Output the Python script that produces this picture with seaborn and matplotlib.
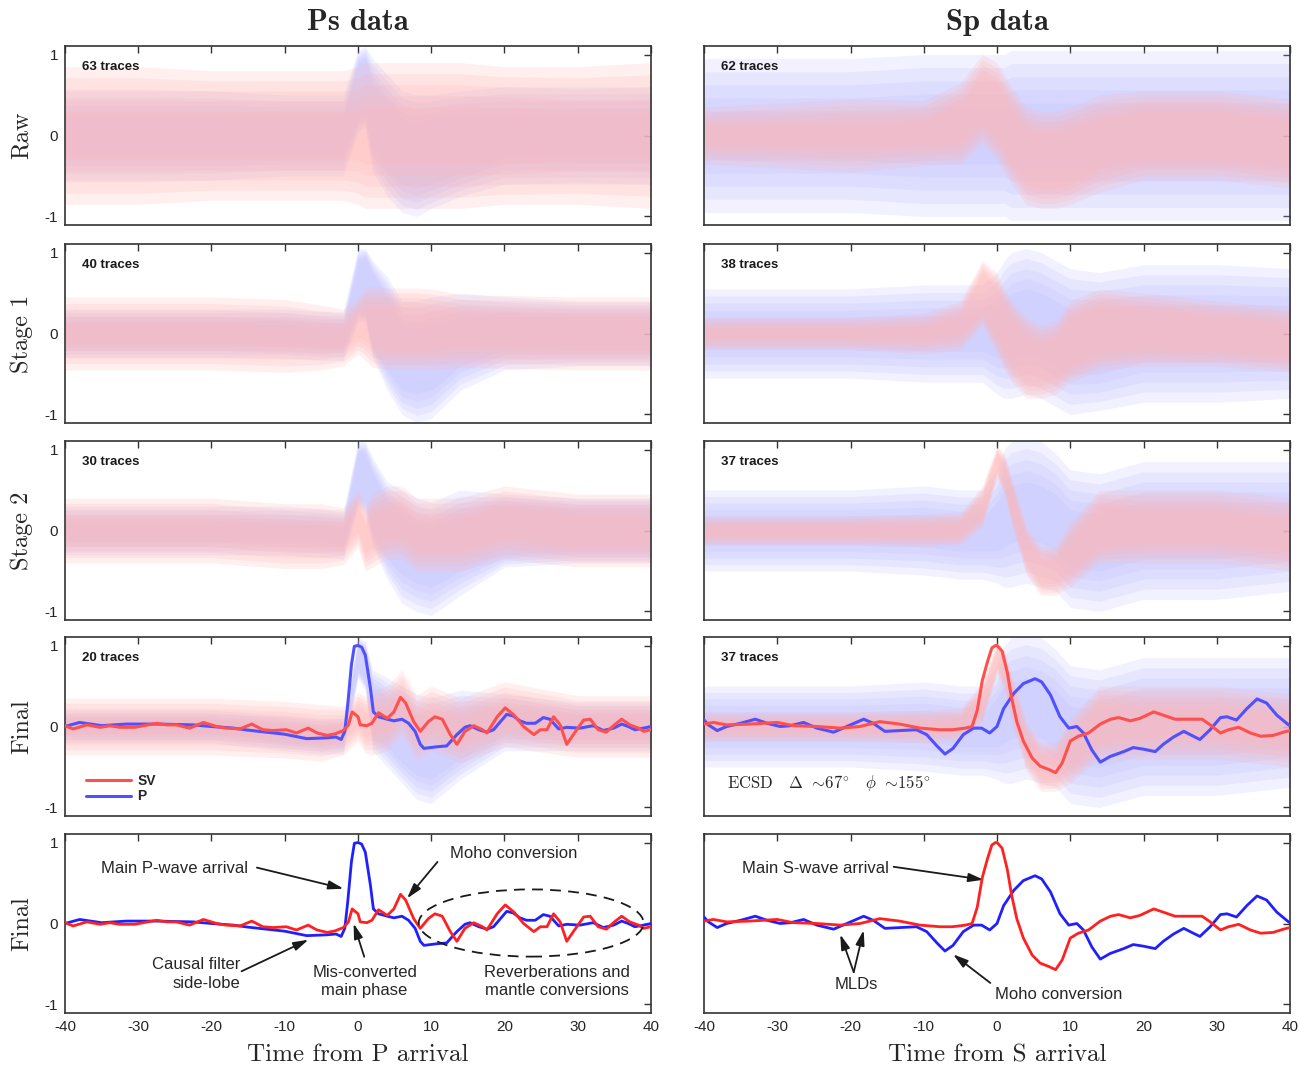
import numpy as np
import pandas as pd
import matplotlib
matplotlib.use("Agg")
import matplotlib.pyplot as plt
import seaborn as sns
from matplotlib.patches import Ellipse

# ---------------- stacked (final) traces ----------------
PS_T_P = [-40, -38, -35, -31.6, -27.5, -22.5, -20, -17, -15, -12.5, -10, -7, -4.3, -3, -2.3, -1.8, -1.4, -0.9, -0.5, 0,
          0.5, 1, 1.7, 2.1, 2.8, 4, 4.9, 6, 6.9, 7.8, 8.5, 9, 10.8, 12.1, 13.5, 14.6, 15.3, 16.5, 17.6, 18.5,
          20.3, 21.2, 22.1, 23, 24.2, 25.3, 26.2, 27.4, 28.5, 30.3, 32.1, 33.5, 34.9, 36, 36.9, 37.8, 39, 40]
PS_P = [0, 0.05, 0.01, 0.03, 0.03, 0.02, 0, -0.02, -0.045, -0.07, -0.095, -0.15, -0.14, -0.13, -0.16, -0.06, 0.27, 0.76, 0.99, 1.0,
        0.98, 0.88, 0.47, 0.18, 0.12, 0.09, 0.07, 0.09, 0.04, -0.06, -0.22, -0.27, -0.25, -0.24, -0.1, -0.01, 0.01, -0.04, -0.07, -0.04,
        0.15, 0.13, 0.07, 0.04, 0.04, 0.11, 0.09, -0.03, -0.01, -0.02, 0.01, -0.05, -0.02, 0.03, 0, -0.04, -0.02, 0]

PS_T_SV = [-40, -38.9, -37, -35.2, -33.9, -32.5, -30.5, -27.5, -26.1, -24.8, -23, -21.1, -19.3, -18, -16.1, -14.5, -13, -11.6,
           -9.8, -8.4, -6.8, -5.6, -4.2, -3.1, -2, -1.3, -0.8, 0, 0.3, 1.2, 1.9, 2.8, 4, 4.9, 5.8, 6.5, 7.6, 8.5, 9.6,
           10.5, 11.5, 12.6, 13.5, 14.6, 15.8, 17, 17.6, 19, 20.1, 21.3, 22.6, 24, 24.9, 25.8, 26.7, 27.6, 28.5, 29.4,
           30.8, 31.7, 32.8, 33.9, 35, 36, 37.1, 38.3, 39, 40]
PS_SV = [0.01, -0.03, 0.02, -0.01, 0.01, -0.01, -0.01, 0.04, 0.02, 0.02, -0.02, 0.05, 0, -0.02, -0.03, 0.03, -0.04, -0.05,
         -0.04, -0.08, -0.02, -0.08, -0.11, -0.09, -0.05, 0.02, 0.18, 0.12, 0.02, 0.01, 0.04, 0.17, 0.1, 0.18, 0.36, 0.29, 0.06, -0.06, 0.06,
         0.12, 0.09, -0.1, -0.22, -0.06, 0.01, -0.04, -0.08, 0.12, 0.23, 0.14, 0, -0.1, -0.04, -0.04, 0.12, 0.02, -0.22, -0.1,
         0.08, 0.09, -0.04, -0.07, 0.02, 0.09, 0.02, -0.02, -0.06, -0.04]

SP_T_P = [-40, -39.4, -38.2, -36.9, -35, -33, -31.4, -29.6, -28.2, -26.4, -24.6, -22.3, -20.5, -18.2, -16.9, -15.3, -13.2, -11,
          -9.6, -8.2, -7.1, -6, -4.6, -3.2, -2.1, -1, 0, 0.9, 2.3, 3.6, 5.2, 6.1, 7.3, 8.6, 9.8, 10.9, 11.8, 12.95, 14.1,
          15.45, 17.3, 18.6, 20, 21.6, 22.7, 24.1, 25.5, 26.8, 27.7, 29.1, 30.5, 31.4, 32.7, 34.1, 35.5, 36.8, 38.2, 39.8, 40]
SP_P = [0.08, 0.02, -0.05, 0, 0.04, 0.09, 0.04, 0, 0.01, 0.05, -0.02, -0.07, 0, 0.09, 0.04, -0.06, -0.05, -0.04,
        -0.1, -0.24, -0.34, -0.27, -0.1, -0.02, -0.02, -0.08, 0.0, 0.22, 0.41, 0.53, 0.59, 0.55, 0.39, 0.12, -0.02, 0, -0.08, -0.29, -0.44,
        -0.37, -0.31, -0.26, -0.28, -0.31, -0.22, -0.13, -0.06, -0.12, -0.16, -0.04, 0.11, 0.12, 0.08, 0.22, 0.34, 0.29, 0.14, 0.02, 0.01]

SP_T_SV = [-40, -38.7, -36.9, -33.7, -30, -27.8, -24.6, -21.4, -18.7, -16, -13.3, -10.5, -7.8, -6.1, -4.3, -3.4, -2.7, -2,
           -1.3, -0.7, -0.2, 0, 0.7, 1.4, 2, 2.7, 3.6, 4.8, 5.9, 7.05, 8, 8.9, 10, 11.1, 12.5, 14.1, 15.5, 16.6, 18.2,
           19.5, 21.4, 22.7, 24.3, 26.4, 28, 29.1, 30.5, 31.6, 33, 34.6, 36, 37.7, 39.1, 40]
SP_SV = [0.03, 0.05, 0.02, 0.03, 0.05, 0.01, 0, -0.02, 0, 0.06, 0.03, -0.02, -0.04, -0.04, -0.02, 0.0, 0.2, 0.57,
         0.8, 0.97, 1.0, 1.0, 0.93, 0.67, 0.35, 0.06, -0.18, -0.39, -0.49, -0.53, -0.57, -0.45, -0.18, -0.12, -0.08, 0.03, 0.09, 0.11, 0.07,
         0.1, 0.18, 0.14, 0.09, 0.09, 0.09, 0.02, -0.08, -0.04, -0.01, -0.08, -0.12, -0.11, -0.07, -0.05]

# ------------- spread of the individual traces (centre, dense core, outer) -------------
T_ENV = [-40, -30, -20, -10, -5, -2, 0, 1, 2, 4, 6, 8, 10, 14, 20, 30, 40]

PS_RAW_SV_C = [0, 0, 0, 0, 0, 0, 0, 0, 0, 0, 0, 0, 0, 0, 0, 0, 0]
PS_RAW_SV_IN = [0.3, 0.3, 0.3, 0.3, 0.3, 0.3, 0.3, 0.35, 0.35, 0.35, 0.35, 0.35, 0.35, 0.35, 0.35, 0.3, 0.3]
PS_RAW_SV_OUT = [0.85, 0.85, 0.8, 0.8, 0.8, 0.8, 0.85, 0.9, 0.9, 0.9, 0.9, 0.9, 0.9, 0.9, 0.85, 0.85, 0.9]
PS_RAW_P_C = [0, 0, 0, 0, 0, 0, 0.55, 0.6, 0.25, 0, -0.2, -0.25, -0.2, -0.1, 0, 0, 0]
PS_RAW_P_IN = [0.2, 0.2, 0.2, 0.2, 0.2, 0.2, 0.35, 0.35, 0.4, 0.4, 0.4, 0.4, 0.4, 0.35, 0.25, 0.25, 0.25]
PS_RAW_P_OUT = [0.55, 0.55, 0.55, 0.5, 0.5, 0.5, 0.5, 0.5, 0.7, 0.75, 0.75, 0.75, 0.7, 0.65, 0.6, 0.6, 0.6]

PS_S1_SV_C = [0, 0, 0, -0.03, -0.05, -0.05, 0.1, 0.12, 0.08, 0.06, 0.06, 0.06, 0.05, 0.03, 0.02, 0, 0]
PS_S1_SV_IN = [0.13, 0.13, 0.13, 0.13, 0.13, 0.12, 0.15, 0.2, 0.25, 0.27, 0.27, 0.27, 0.25, 0.22, 0.2, 0.2, 0.2]
PS_S1_SV_OUT = [0.45, 0.45, 0.45, 0.45, 0.4, 0.35, 0.35, 0.45, 0.5, 0.5, 0.5, 0.5, 0.5, 0.45, 0.45, 0.45, 0.45]
PS_S1_P_C = [0, 0, 0, 0, -0.03, -0.03, 0.6, 0.6, 0.3, 0.0, -0.3, -0.35, -0.3, -0.1, 0, 0, 0]
PS_S1_P_IN = [0.12, 0.12, 0.12, 0.12, 0.12, 0.12, 0.3, 0.35, 0.45, 0.45, 0.4, 0.4, 0.4, 0.3, 0.2, 0.2, 0.2]
PS_S1_P_OUT = [0.3, 0.3, 0.3, 0.3, 0.3, 0.3, 0.45, 0.45, 0.6, 0.7, 0.7, 0.75, 0.75, 0.6, 0.45, 0.4, 0.4]

PS_S2_SV_C = [0, 0, 0, -0.07, -0.07, -0.07, 0.15, -0.1, 0, 0.1, 0.1, -0.05, -0.05, -0.05, 0.1, 0, 0]
PS_S2_SV_IN = [0.13, 0.13, 0.13, 0.13, 0.13, 0.13, 0.15, 0.18, 0.2, 0.2, 0.2, 0.2, 0.2, 0.2, 0.2, 0.2, 0.2]
PS_S2_SV_OUT = [0.4, 0.4, 0.4, 0.4, 0.4, 0.35, 0.35, 0.4, 0.45, 0.45, 0.45, 0.45, 0.45, 0.45, 0.45, 0.45, 0.45]
PS_S2_P_C = [0, 0, 0, 0, -0.03, -0.05, 0.7, 0.65, 0.35, 0.0, -0.2, -0.3, -0.35, -0.15, 0, 0, 0]
PS_S2_P_IN = [0.1, 0.1, 0.1, 0.1, 0.1, 0.1, 0.28, 0.3, 0.35, 0.35, 0.35, 0.35, 0.35, 0.35, 0.3, 0.25, 0.25]
PS_S2_P_OUT = [0.3, 0.3, 0.3, 0.3, 0.3, 0.3, 0.4, 0.45, 0.55, 0.6, 0.7, 0.7, 0.7, 0.65, 0.45, 0.4, 0.4]

PS_FIN_SV_C = [0, 0, 0, -0.04, -0.08, -0.05, 0.12, 0.02, 0.05, 0.1, 0.3, -0.02, 0.1, -0.05, 0.15, 0, 0]
PS_FIN_SV_IN = [0.1, 0.1, 0.1, 0.1, 0.1, 0.1, 0.12, 0.15, 0.15, 0.15, 0.15, 0.15, 0.15, 0.15, 0.15, 0.15, 0.15]
PS_FIN_SV_OUT = [0.35, 0.35, 0.35, 0.35, 0.35, 0.3, 0.3, 0.35, 0.4, 0.4, 0.4, 0.4, 0.4, 0.4, 0.4, 0.38, 0.38]
PS_FIN_P_C = [0, 0, 0, -0.08, -0.12, -0.12, 0.85, 0.75, 0.2, 0.05, -0.1, -0.25, -0.3, -0.1, 0.05, 0, 0]
PS_FIN_P_IN = [0.06, 0.06, 0.06, 0.08, 0.08, 0.08, 0.15, 0.2, 0.3, 0.3, 0.35, 0.35, 0.35, 0.3, 0.15, 0.12, 0.12]
PS_FIN_P_OUT = [0.2, 0.2, 0.2, 0.22, 0.22, 0.22, 0.25, 0.3, 0.5, 0.55, 0.6, 0.65, 0.65, 0.55, 0.35, 0.3, 0.3]

SP_RAW_SV_C = [0, 0, 0, 0.03, 0.15, 0.45, 0.3, 0.15, 0, -0.25, -0.3, -0.3, -0.25, -0.1, 0, 0, -0.1]
SP_RAW_SV_IN = [0.12, 0.12, 0.15, 0.15, 0.25, 0.3, 0.35, 0.35, 0.35, 0.35, 0.35, 0.35, 0.35, 0.3, 0.3, 0.3, 0.3]
SP_RAW_SV_OUT = [0.35, 0.4, 0.45, 0.4, 0.5, 0.55, 0.6, 0.6, 0.6, 0.6, 0.6, 0.6, 0.6, 0.6, 0.55, 0.55, 0.55]
SP_RAW_P_C = [0, 0, 0, 0, 0, 0, 0, 0, 0, 0, 0, 0, 0, 0, 0, 0, 0]
SP_RAW_P_IN = [0.3, 0.3, 0.3, 0.35, 0.35, 0.35, 0.35, 0.35, 0.4, 0.4, 0.4, 0.4, 0.4, 0.4, 0.4, 0.4, 0.4]
SP_RAW_P_OUT = [0.95, 0.95, 0.95, 1.0, 1.0, 1.0, 1.0, 1.0, 1.05, 1.05, 1.05, 1.05, 1.05, 1.05, 1.05, 1.05, 1.05]

SP_S1_SV_C = [0, 0, 0, 0, 0.1, 0.5, 0.25, 0.05, -0.1, -0.3, -0.35, -0.3, -0.1, 0.05, 0.05, 0, -0.08]
SP_S1_SV_IN = [0.07, 0.07, 0.07, 0.08, 0.12, 0.25, 0.3, 0.3, 0.3, 0.3, 0.25, 0.25, 0.3, 0.3, 0.25, 0.22, 0.22]
SP_S1_SV_OUT = [0.2, 0.2, 0.2, 0.25, 0.3, 0.4, 0.5, 0.5, 0.5, 0.5, 0.45, 0.45, 0.5, 0.5, 0.45, 0.4, 0.4]
SP_S1_P_C = [0, 0, 0, 0, 0, 0, 0, 0.05, 0.1, 0.15, 0.1, 0, -0.1, -0.1, 0, 0, 0]
SP_S1_P_IN = [0.2, 0.2, 0.2, 0.22, 0.22, 0.22, 0.3, 0.35, 0.4, 0.4, 0.4, 0.4, 0.4, 0.4, 0.35, 0.35, 0.35]
SP_S1_P_OUT = [0.55, 0.55, 0.55, 0.6, 0.6, 0.6, 0.75, 0.85, 0.9, 0.9, 0.9, 0.9, 0.9, 0.85, 0.85, 0.85, 0.8]

SP_S2_SV_C = [0, 0, 0, 0, 0.02, 0.3, 0.85, 0.7, 0.35, -0.25, -0.5, -0.5, -0.3, 0.05, 0.05, 0.05, -0.05]
SP_S2_SV_IN = [0.07, 0.07, 0.07, 0.08, 0.08, 0.12, 0.1, 0.12, 0.15, 0.15, 0.15, 0.15, 0.2, 0.25, 0.2, 0.2, 0.2]
SP_S2_SV_OUT = [0.18, 0.18, 0.18, 0.2, 0.2, 0.25, 0.2, 0.25, 0.3, 0.3, 0.3, 0.3, 0.4, 0.45, 0.45, 0.45, 0.45]
SP_S2_P_C = [0, 0, 0, 0, -0.05, -0.05, 0.05, 0.15, 0.2, 0.25, 0.2, 0.1, -0.1, -0.15, 0, 0, 0.05]
SP_S2_P_IN = [0.18, 0.18, 0.18, 0.2, 0.2, 0.2, 0.3, 0.35, 0.35, 0.35, 0.35, 0.35, 0.35, 0.35, 0.35, 0.35, 0.3]
SP_S2_P_OUT = [0.5, 0.5, 0.5, 0.55, 0.55, 0.55, 0.7, 0.85, 0.9, 0.9, 0.9, 0.85, 0.85, 0.85, 0.85, 0.85, 0.8]

N_TRACES_PS = ["63 traces", "40 traces", "30 traces", "20 traces"]
N_TRACES_SP = ["62 traces", "38 traces", "37 traces", "37 traces"]
ROW_LABELS = ["Raw", "Stage 1", "Stage 2", "Final", "Final"]
X_TICKS = [-40, -30, -20, -10, 0, 10, 20, 30, 40]

CLOUDS_PS = [
    (PS_RAW_SV_C, PS_RAW_SV_IN, PS_RAW_SV_OUT, PS_RAW_P_C, PS_RAW_P_IN, PS_RAW_P_OUT),
    (PS_S1_SV_C, PS_S1_SV_IN, PS_S1_SV_OUT, PS_S1_P_C, PS_S1_P_IN, PS_S1_P_OUT),
    (PS_S2_SV_C, PS_S2_SV_IN, PS_S2_SV_OUT, PS_S2_P_C, PS_S2_P_IN, PS_S2_P_OUT),
    (PS_FIN_SV_C, PS_FIN_SV_IN, PS_FIN_SV_OUT, PS_FIN_P_C, PS_FIN_P_IN, PS_FIN_P_OUT),
]
CLOUDS_SP = [
    (SP_RAW_SV_C, SP_RAW_SV_IN, SP_RAW_SV_OUT, SP_RAW_P_C, SP_RAW_P_IN, SP_RAW_P_OUT),
    (SP_S1_SV_C, SP_S1_SV_IN, SP_S1_SV_OUT, SP_S1_P_C, SP_S1_P_IN, SP_S1_P_OUT),
    (SP_S2_SV_C, SP_S2_SV_IN, SP_S2_SV_OUT, SP_S2_P_C, SP_S2_P_IN, SP_S2_P_OUT),
    (SP_S2_SV_C, SP_S2_SV_IN, SP_S2_SV_OUT, SP_S2_P_C, SP_S2_P_IN, SP_S2_P_OUT),
]

# ---------------- style ----------------
sns.set_theme(style="white")
plt.rcParams["font.family"] = ["Liberation Sans", "DejaVu Sans"]
plt.rcParams["axes.unicode_minus"] = False
plt.rcParams["mathtext.fontset"] = "cm"

PINK = (1.0, 0.70, 0.70)
LBLUE = (0.74, 0.74, 1.0)
RED4, BLUE4 = "#FF5050", "#5050FF"
RED5, BLUE5 = "#FF2020", "#2020FF"
SERIF = "cmr10"
SERIF_B = "cmb10"

W, H = 1299, 1067
fig = plt.figure(figsize=(W / 100, H / 100), dpi=100)
COL_LEFT = [65, 704]
COL_W = 586
ROW_TOP = [46, 244, 441, 637, 834]
ROW_H = 179


def cloud(ax, c, wi, wo, color, z, alpha):
    c = np.asarray(c, float)
    wi = np.asarray(wi, float)
    wo = np.asarray(wo, float)
    for f in np.linspace(0, 1, 5):
        w = wo + (wi - wo) * f
        ax.fill_between(T_ENV, c - w, c + w, color=color, alpha=alpha, lw=0, zorder=z)


def style_axes(ax, bottom, left_col):
    ax.set_xlim(-40, 40)
    ax.set_ylim(-1.105, 1.105)
    ax.set_xticks(X_TICKS)
    ax.set_yticks([-1, 0, 1])
    ax.tick_params(direction="in", top=True, right=True, length=5, width=1.0,
                   color="#333333", labelsize=11, pad=5,
                   labelbottom=bottom, labelleft=left_col)
    for s in ax.spines.values():
        s.set_linewidth(1.2)
        s.set_color("#333333")
    ax.set_xlabel("")
    ax.set_ylabel("")


axes = {}
for r in range(5):
    for c in range(2):
        ax = fig.add_axes([COL_LEFT[c] / W, 1 - (ROW_TOP[r] + ROW_H) / H, COL_W / W, ROW_H / H])
        axes[(r, c)] = ax
        clouds = CLOUDS_PS if c == 0 else CLOUDS_SP
        if r < 4:
            svc, svi, svo, pc, pi, po = clouds[r]
            cloud(ax, pc, pi, po, LBLUE, 1, 0.2)
            cloud(ax, svc, svi, svo, PINK, 2, 0.2)
            ax.text(0.029, 0.88, (N_TRACES_PS if c == 0 else N_TRACES_SP)[r],
                    transform=ax.transAxes, ha="left", va="center",
                    fontsize=9.5, fontweight="bold", color="k", zorder=9)
        style_axes(ax, r == 4, c == 0)

# main stacked traces on the two "Final" rows
for c in range(2):
    t_sv, sv, t_p, p = ((PS_T_SV, PS_SV, PS_T_P, PS_P) if c == 0 else (SP_T_SV, SP_SV, SP_T_P, SP_P))
    ax4 = axes[(3, c)]
    sns.lineplot(x=t_p, y=p, ax=ax4, color=BLUE4, linewidth=2.2, sort=False, estimator=None, zorder=5, label="P")
    sns.lineplot(x=t_sv, y=sv, ax=ax4, color=RED4, linewidth=2.2, sort=False, estimator=None, zorder=6, label="SV")
    ax5 = axes[(4, c)]
    sns.lineplot(x=t_p, y=p, ax=ax5, color=BLUE5, linewidth=2.0, sort=False, estimator=None, zorder=5)
    sns.lineplot(x=t_sv, y=sv, ax=ax5, color=RED5, linewidth=2.0, sort=False, estimator=None, zorder=6)
    for a in (ax4, ax5):
        a.set_xlabel("")
        a.set_ylabel("")
        leg = a.get_legend()
        if leg is not None:
            leg.remove()
    style_axes(ax4, False, c == 0)
    style_axes(ax5, True, c == 0)

# legend on Ps final
ax = axes[(3, 0)]
h, l = ax.get_legend_handles_labels()
hd = dict(zip(l, h))
ax.legend([hd["SV"], hd["P"]], ["SV", "P"], loc="lower left", bbox_to_anchor=(0.036, 0.07),
          frameon=False, handlelength=3.2, handletextpad=0.5, labelspacing=0.08,
          borderpad=0, borderaxespad=0, prop=dict(weight="bold", size=10))

# ECSD text on Sp final
axes[(3, 1)].text(-36.8, -0.70, r"ECSD   $\Delta$ $\sim\!67^{\circ}$   $\phi$ $\sim\!155^{\circ}$",
                  fontfamily=SERIF, fontsize=12, ha="left", va="center", zorder=8)

# annotations
AP = dict(arrowstyle="-|>,head_width=0.22,head_length=0.75", color="k", lw=1.3, shrinkA=0, shrinkB=0)
ax = axes[(4, 0)]
ax.text(-14.97, 0.685, "Main P-wave arrival", ha="right", va="center", fontsize=12)
ax.annotate("", xy=(-1.97, 0.43), xytext=(-13.8, 0.69), arrowprops=AP)
ax.text(12.6, 0.87, "Moho conversion", ha="left", va="center", fontsize=12)
ax.annotate("", xy=(6.7, 0.31), xytext=(10.85, 0.76), arrowprops=AP)
ax.text(-16.1, -0.62, "Causal filter\nside-lobe", ha="right", va="center", fontsize=12,
        multialignment="right", linespacing=1.3)
ax.annotate("", xy=(-6.76, -0.2), xytext=(-15.9, -0.59), arrowprops=AP)
ax.text(0.9, -0.714, "Mis-converted\nmain phase", ha="center", va="center", fontsize=12,
        multialignment="center", linespacing=1.3)
ax.annotate("", xy=(-0.6, 0.0), xytext=(0.85, -0.41), arrowprops=AP)
ax.text(27.2, -0.714, "Reverberations and\nmantle conversions", ha="center", va="center", fontsize=12,
        multialignment="center", linespacing=1.3)
ax.add_patch(Ellipse((23.64, 0.006), 30.7, 0.83, fill=False, ec="k", lw=1.3, ls=(0, (6, 4)), zorder=7))

ax = axes[(4, 1)]
ax.text(-14.8, 0.685, "Main S-wave arrival", ha="right", va="center", fontsize=12)
ax.annotate("", xy=(-1.83, 0.54), xytext=(-14.1, 0.70), arrowprops=AP)
ax.text(-19.2, -0.755, "MLDs", ha="center", va="center", fontsize=12)
ax.annotate("", xy=(-21.4, -0.135), xytext=(-19.56, -0.60), arrowprops=AP)
ax.annotate("", xy=(-18.2, -0.082), xytext=(-19.56, -0.60), arrowprops=AP)
ax.text(-0.23, -0.878, "Moho conversion", ha="left", va="center", fontsize=12)
ax.annotate("", xy=(-6.0, -0.38), xytext=(-0.91, -0.734), arrowprops=AP)

# titles, row labels, x labels
fig.text((65 + COL_W / 2) / W, 1 - 22 / H, "Ps data", fontfamily=SERIF_B, fontsize=22, ha="center", va="center")
fig.text((704 + COL_W / 2) / W, 1 - 22 / H, "Sp data", fontfamily=SERIF_B, fontsize=22, ha="center", va="center")
for r, lab in enumerate(ROW_LABELS):
    fig.text(22 / W, 1 - (ROW_TOP[r] + ROW_H / 2) / H, lab, fontfamily=SERIF, fontsize=17.5,
             rotation=90, ha="center", va="center")
fig.text((65 + COL_W / 2) / W, 1 - 1055 / H, "Time from P arrival", fontfamily=SERIF, fontsize=18,
         ha="center", va="center")
fig.text((704 + COL_W / 2) / W, 1 - 1055 / H, "Time from S arrival", fontfamily=SERIF, fontsize=18,
         ha="center", va="center")

fig.savefig("out.png", dpi=100)
